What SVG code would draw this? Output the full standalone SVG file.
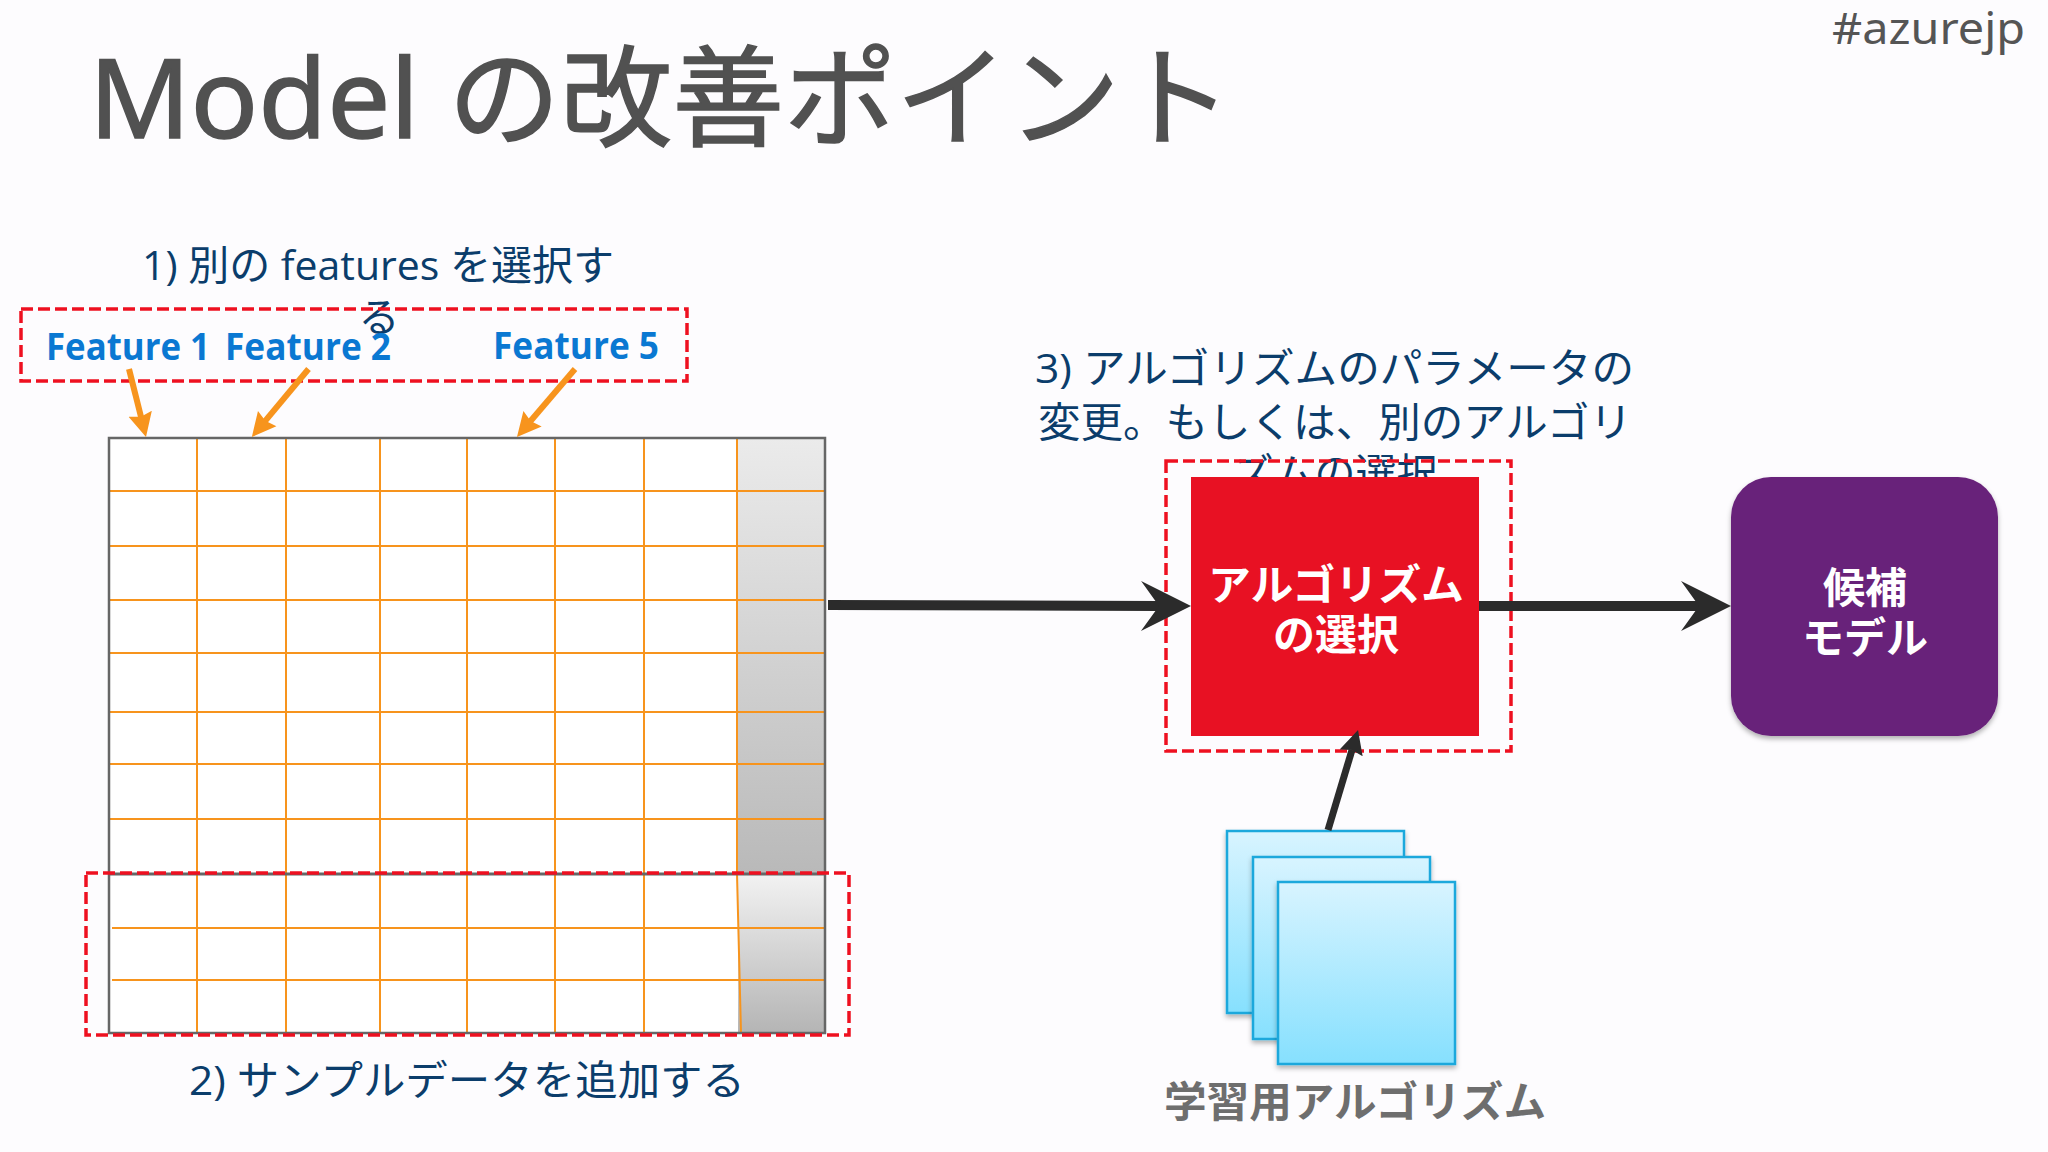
<svg xmlns="http://www.w3.org/2000/svg" width="2048" height="1152" viewBox="0 0 2048 1152">
<style>
text{font-family:"Noto Sans","Noto Sans CJK JP",sans-serif}
.desc{font-size:41px;fill:#0b3d6b;font-family:"Open Sans","Noto Sans CJK JP",sans-serif}
.feat{font-size:38px;font-weight:700;fill:#0a78d2;font-family:"Open Sans",sans-serif}
.white{font-size:42px;font-weight:700;fill:#fff;text-anchor:middle;font-family:"Noto Sans CJK JP",sans-serif}
.dash{fill:none;stroke:#ee1020;stroke-width:3.5;stroke-dasharray:12 5}
.g{fill:none;stroke:#f7941d;stroke-width:2}
.o{stroke:#f7941d;stroke-width:6;fill:none;marker-end:url(#oh)}
.b{stroke:#2b2b2b;stroke-width:10;fill:none;marker-end:url(#bh)}
.sq{fill:url(#sq);stroke:#1ba8dc;stroke-width:2.5;filter:url(#sh)}
</style>
<defs>
<linearGradient id="g1" x1="0" y1="0" x2="0" y2="1"><stop offset="0" stop-color="#ebebeb"/><stop offset="1" stop-color="#b9b9b9"/></linearGradient>
<linearGradient id="g2" x1="0" y1="0" x2="0" y2="1"><stop offset="0" stop-color="#f2f2f2"/><stop offset="1" stop-color="#b5b5b5"/></linearGradient>
<linearGradient id="sq" x1="0" y1="0" x2="0" y2="1"><stop offset="0" stop-color="#d8f4ff"/><stop offset="1" stop-color="#86e0fe"/></linearGradient>
<filter id="sh" x="-10%" y="-10%" width="120%" height="120%"><feDropShadow dx="0" dy="3" stdDeviation="2.5" flood-color="#000" flood-opacity=".3"/></filter>
<marker id="oh" markerUnits="userSpaceOnUse" markerWidth="26" markerHeight="28" refX="5" refY="14" orient="auto"><path d="M0 2L24 14L0 26L3 14Z" fill="#f7941d"/></marker>
<marker id="bh" markerUnits="userSpaceOnUse" markerWidth="54" markerHeight="54" refX="20" refY="27" orient="auto"><path d="M1 2L51 27L1 52L19 27Z" fill="#2b2b2b"/></marker>
<marker id="bs" markerUnits="userSpaceOnUse" markerWidth="26" markerHeight="30" refX="3" refY="15" orient="auto"><path d="M0 3L24 15L0 27L3 15Z" fill="#2b2b2b"/></marker>
</defs>
<rect width="2048" height="1152" fill="#fdfcfe"/>
<g id="title"><text x="89" y="138" font-size="110" fill="#515151" stroke="#515151" stroke-width="1.5" textLength="1143" lengthAdjust="spacingAndGlyphs">Model の改善ポイント</text></g>
<g id="hashtag"><text x="1832" y="44" font-size="44" fill="#555" textLength="193" lengthAdjust="spacingAndGlyphs">#azurejp</text></g>
<g id="label-1"><text class="desc" x="142" y="280" textLength="472" lengthAdjust="spacingAndGlyphs">1) 別の features を選択す</text><text class="desc" x="379" y="332" text-anchor="middle">る</text></g>
<g id="feature-box"><rect class="dash" x="21" y="309" width="666" height="72"/>
<text class="feat" x="46" y="360" textLength="164" lengthAdjust="spacingAndGlyphs">Feature 1</text>
<text class="feat" x="225" y="360" textLength="166" lengthAdjust="spacingAndGlyphs">Feature 2</text>
<text class="feat" x="493" y="359" textLength="166" lengthAdjust="spacingAndGlyphs">Feature 5</text></g>
<g id="table">
<rect x="109" y="438" width="716" height="595" fill="#fff"/>
<rect x="737" y="438" width="88" height="436" fill="url(#g1)"/>
<rect x="738" y="874" width="87" height="158" fill="url(#g2)"/>
<path class="g" d="M197 438V1033M286 438V1033M380 438V1033M467 438V1033M555 438V1033M644 438V1033M737 438V874L741 1033"/>
<path class="g" d="M109 491H825M109 546H825M109 600H825M109 653H825M109 712H825M109 764H825M109 819H825M112 928H825M112 980H825"/>
<rect x="109" y="438" width="716" height="595" fill="none" stroke="#666" stroke-width="2.5"/>
<path d="M109 874H825" stroke="#666" stroke-width="3"/>
</g>
<g id="sample-box"><rect class="dash" x="86" y="873" width="763" height="162"/></g>
<g id="label-2"><text class="desc" x="189" y="1095" textLength="556" lengthAdjust="spacingAndGlyphs">2) サンプルデータを追加する</text></g>
<g id="label-3"><text class="desc" x="1035" y="383" textLength="599" lengthAdjust="spacingAndGlyphs">3) アルゴリズムのパラメータの</text>
<text class="desc" x="1038" y="437" textLength="594" lengthAdjust="spacingAndGlyphs">変更。もしくは、別のアルゴリ</text>
<text class="desc" x="1335" y="488" text-anchor="middle">ズムの選択</text></g>
<g id="algorithm"><rect x="1191" y="477" width="288" height="259" fill="#e81123"/>
<text class="white" x="1336" y="600" textLength="256" lengthAdjust="spacingAndGlyphs">アルゴリズム</text>
<text class="white" x="1336" y="650">の選択</text></g>
<g id="algorithm-box"><rect class="dash" x="1166" y="461" width="345" height="290"/></g>
<g id="candidate"><rect x="1731" y="477" width="267" height="259" rx="40" fill="#68217a" filter="url(#sh)"/>
<text class="white" x="1865" y="603">候補</text><text class="white" x="1865" y="653">モデル</text></g>
<g id="stack"><rect class="sq" x="1227" y="831" width="177" height="182"/><rect class="sq" x="1253" y="857" width="177" height="182"/><rect class="sq" x="1278" y="882" width="177" height="182"/></g>
<g id="stack-label"><text x="1164" y="1117" font-size="42" font-weight="700" fill="#6e6e6e" font-family="Noto Sans CJK JP,sans-serif" textLength="382" lengthAdjust="spacingAndGlyphs">学習用アルゴリズム</text></g>
<g id="connectors">
<path class="o" d="M129 369L141.4 418.6"/><path class="o" d="M308.5 369L264 422.4"/><path class="o" d="M575 369L529.3 422.5"/>
<path class="b" d="M828 605L1160 606"/><path class="b" d="M1479 606H1700"/>
<path d="M1328 830L1352 750" stroke="#2b2b2b" stroke-width="7" fill="none" marker-end="url(#bs)"/>
</g>
</svg>
